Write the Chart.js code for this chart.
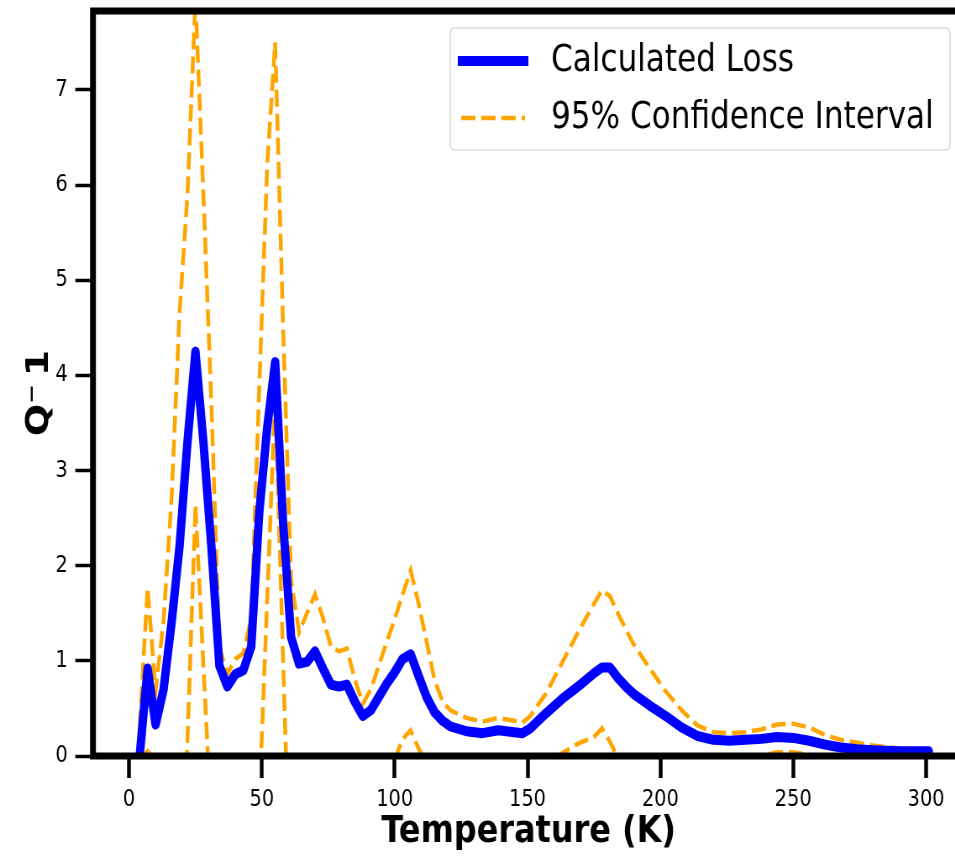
<!DOCTYPE html>
<html>
<head>
<meta charset="utf-8">
<script src="https://cdn.jsdelivr.net/npm/chart.js@4.4.0/dist/chart.umd.min.js"></script>
<style>
  html, body { margin: 0; padding: 0; background: #fff; overflow: hidden; width: 955px; height: 859px; }
  /* the figure is laid out wider and narrowed horizontally, giving the tall, condensed lettering */
  #wrap { position: absolute; left: 0; top: 0; width: 1150px; height: 859px; transform: scaleX(0.84); transform-origin: 0 0; }
  canvas { display: block; }
</style>
</head>
<body>
<div id="wrap"><canvas id="c" width="1150" height="859"></canvas></div>
<script>
// Temperature grid (K)
const temperature = [4, 7, 10, 13, 16, 19, 22, 25, 28, 31, 34, 37, 40, 43, 46, 49, 52, 55, 58, 61,
  64, 67, 70, 73, 76, 79, 82, 85, 88, 91, 94, 97, 100, 103, 106, 109, 112, 115, 118, 121,
  127, 133, 139, 145, 148, 151, 157, 163, 169, 175, 178, 181, 184, 187, 190, 196, 202, 208, 214, 220,
  226, 232, 238, 244, 250, 256, 262, 268, 274, 280, 290, 301];

// Internal friction Q^-1, mean estimate
const calculatedLoss = [0.00, 0.92, 0.33, 0.70, 1.40, 2.20, 3.30, 4.25, 3.30, 2.20, 0.95, 0.73, 0.86, 0.90, 1.15, 2.55, 3.45, 4.14, 2.45, 1.25,
  0.97, 0.99, 1.10, 0.92, 0.75, 0.73, 0.75, 0.57, 0.42, 0.48, 0.62, 0.76, 0.88, 1.02, 1.07, 0.84, 0.62, 0.46, 0.37, 0.31,
  0.26, 0.24, 0.27, 0.25, 0.24, 0.29, 0.45, 0.60, 0.73, 0.87, 0.93, 0.93, 0.82, 0.73, 0.65, 0.53, 0.42, 0.30, 0.21, 0.17,
  0.16, 0.17, 0.18, 0.20, 0.19, 0.16, 0.12, 0.09, 0.07, 0.06, 0.05, 0.05];

// Upper bound of the 95% confidence interval
const ciUpper = [0.30, 1.77, 0.68, 1.42, 2.70, 4.65, 5.90, 7.95, 5.90, 3.70, 1.15, 0.86, 1.02, 1.08, 1.45, 3.85, 6.20, 7.50, 4.50, 1.85,
  1.30, 1.50, 1.70, 1.45, 1.15, 1.10, 1.13, 0.80, 0.55, 0.70, 0.95, 1.20, 1.44, 1.70, 1.95, 1.60, 1.20, 0.80, 0.57, 0.48,
  0.40, 0.36, 0.40, 0.37, 0.35, 0.42, 0.66, 0.98, 1.30, 1.60, 1.74, 1.68, 1.50, 1.33, 1.17, 0.92, 0.68, 0.48, 0.32, 0.25,
  0.24, 0.25, 0.28, 0.33, 0.34, 0.30, 0.22, 0.17, 0.14, 0.11, 0.08, 0.06];

// Lower bound of the 95% confidence interval (negative parts fall below the axis)
const ciLower = [-0.05, 0.05, -0.05, -0.10, -0.80, -2.30, 0.17, 2.64, 0.95, -0.73, -0.80, -0.60, -0.50, -0.40, -0.80, -0.50, 1.64, 3.77, 1.00, -1.75,
  -0.60, -0.50, -0.50, -0.40, -0.30, -0.30, -0.40, -0.30, -0.20, -0.20, -0.15, -0.10, -0.04, 0.18, 0.27, 0.08, -0.10, -0.20, -0.20, -0.15,
  -0.12, -0.12, -0.12, -0.12, -0.12, -0.12, -0.12, 0.03, 0.13, 0.20, 0.29, 0.15, -0.02, -0.20, -0.20, -0.15, -0.10, -0.06, -0.05, -0.04,
  -0.03, -0.02, 0.00, 0.04, 0.04, 0.01, -0.02, -0.02, -0.02, -0.02, -0.01, -0.01];

const xTickValues = [0, 50, 100, 150, 200, 250, 300];
const yTickValues = [0, 1, 2, 3, 4, 5, 6, 7];
const seriesNames = ['Calculated Loss', '95% Confidence Interval'];

const BLUE = '#0000ff';
const ORANGE = '#ffa500';
const DASH = [17, 7];

const pairs = ys => temperature.map((t, i) => ({ x: t, y: ys[i] }));

Chart.defaults.font.family = "'DejaVu Sans', sans-serif";
Chart.defaults.color = '#000';

// black frame around the plotting area, drawn over the curves
const framePlugin = {
  id: 'frame',
  afterDatasetsDraw(chart) {
    const { ctx, chartArea: a } = chart;
    ctx.save();
    ctx.strokeStyle = '#000';
    ctx.lineWidth = 7;
    ctx.strokeRect(a.left, a.top, a.right - a.left, a.bottom - a.top);
    ctx.restore();
  }
};

// boxed legend in the upper right corner
const boxLegend = {
  id: 'boxLegend',
  afterDraw(chart) {
    const ctx = chart.ctx;
    const x0 = 536, y0 = 28, w = 595, h = 122, r = 5;
    ctx.save();
    ctx.beginPath();
    ctx.moveTo(x0 + r, y0);
    ctx.arcTo(x0 + w, y0, x0 + w, y0 + h, r);
    ctx.arcTo(x0 + w, y0 + h, x0, y0 + h, r);
    ctx.arcTo(x0, y0 + h, x0, y0, r);
    ctx.arcTo(x0, y0, x0 + w, y0, r);
    ctx.closePath();
    ctx.fillStyle = 'rgba(255,255,255,0.8)';
    ctx.fill();
    ctx.strokeStyle = '#cccccc';
    ctx.lineWidth = 1.2;
    ctx.stroke();

    const ds = chart.data.datasets;
    const rows = [
      { ds: ds[0], y: 61, x1: 545, x2: 629 },
      { ds: ds[1], y: 118, x1: 549, x2: 625 }
    ];
    rows.forEach(row => {
      ctx.beginPath();
      ctx.setLineDash(row.ds.borderDash || []);
      ctx.lineWidth = row.ds.borderWidth;
      ctx.strokeStyle = row.ds.borderColor;
      ctx.lineCap = 'butt';
      ctx.moveTo(row.x1, row.y);
      ctx.lineTo(row.x2, row.y);
      ctx.stroke();
      ctx.setLineDash([]);
      ctx.fillStyle = '#000';
      ctx.font = "37px 'DejaVu Sans', sans-serif";
      ctx.textBaseline = 'middle';
      ctx.textAlign = 'left';
      ctx.fillText(row.ds.label, 656, row.y);
    });
    ctx.restore();
  }
};

new Chart(document.getElementById('c'), {
  type: 'line',
  data: {
    datasets: [
      {
        label: seriesNames[0],
        data: pairs(calculatedLoss),
        borderColor: BLUE,
        borderWidth: 10,
        borderJoinStyle: 'round',
        borderCapStyle: 'round',
        pointRadius: 0,
        tension: 0,
        order: 0
      },
      {
        label: seriesNames[1],
        data: pairs(ciUpper),
        borderColor: ORANGE,
        borderWidth: 4.5,
        borderDash: DASH,
        pointRadius: 0,
        tension: 0,
        order: 1
      },
      {
        label: seriesNames[1],
        data: pairs(ciLower),
        borderColor: ORANGE,
        borderWidth: 4.5,
        borderDash: DASH,
        pointRadius: 0,
        tension: 0,
        order: 2
      }
    ]
  },
  options: {
    responsive: false,
    animation: false,
    devicePixelRatio: 1,
    layout: { padding: { top: 11, right: 2, bottom: 0, left: 0 } },
    plugins: {
      legend: { display: false },
      tooltip: { enabled: false }
    },
    scales: {
      x: {
        type: 'linear',
        min: -13.56,
        max: 314.4,
        afterFit: s => { s.height = 103; s.paddingLeft = 0; s.paddingRight = 0; s.paddingTop = 0; s.paddingBottom = 0; },
        afterBuildTicks: s => { s.ticks = xTickValues.map(v => ({ value: v })); },
        border: { display: false },
        grid: {
          drawOnChartArea: false,
          drawTicks: true,
          tickLength: 22,
          tickWidth: 4.5,
          tickColor: '#000'
        },
        ticks: {
          padding: 8,
          maxRotation: 0,
          font: { size: 23 },
          color: '#000'
        },
        title: {
          display: true,
          text: 'Temperature (K)',
          font: { size: 38, weight: 'bold' },
          color: '#000',
          padding: { top: 0, bottom: 4 }
        }
      },
      y: {
        type: 'linear',
        min: 0,
        max: 7.83,
        afterFit: s => { s.width = 110.7; s.paddingLeft = 0; s.paddingRight = 0; s.paddingTop = 0; s.paddingBottom = 0; },
        afterBuildTicks: s => { s.ticks = yTickValues.map(v => ({ value: v })); },
        border: { display: false },
        grid: {
          drawOnChartArea: false,
          drawTicks: true,
          tickLength: 21,
          tickWidth: 3.5,
          tickColor: '#000'
        },
        ticks: {
          padding: 9,
          font: { size: 23 },
          color: '#000'
        },
        title: {
          display: true,
          text: 'Q⁻\u20091\u2002',
          font: { size: 38, weight: 'bold' },
          color: '#000',
          padding: { top: 24, bottom: 0 }
        }
      }
    }
  },
  plugins: [framePlugin, boxLegend]
});
</script>
</body>
</html>
